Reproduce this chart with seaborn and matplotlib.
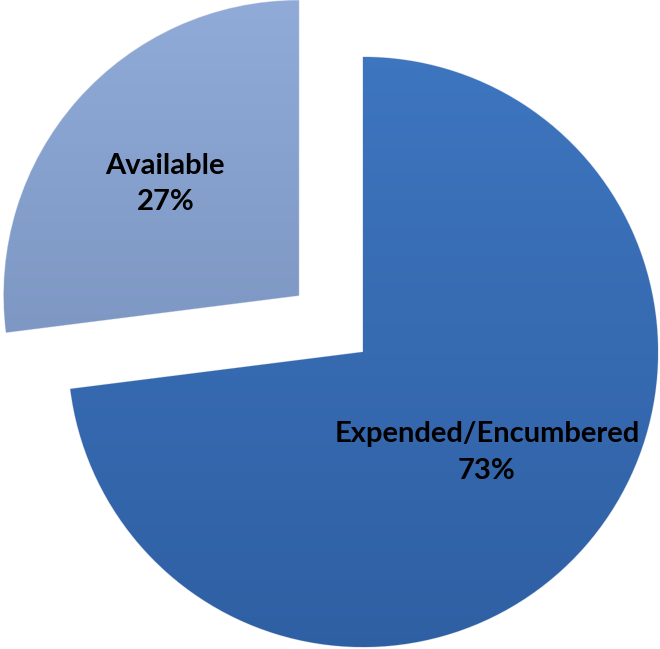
import matplotlib
matplotlib.use("Agg")
import matplotlib.pyplot as plt
import matplotlib.colors as mcolors
import numpy as np
import seaborn as sns

# data
categories = ["Expended/Encumbered", "Available"]
shares = [73, 27]
explode = [0, 0.29]

# top and bottom colours of each slice (glossy look)
top_colors = ["#3f78c2", "#91acd9"]
bottom_colors = ["#2f5fa3", "#6c84b0"]

sns.set_style("white")
plt.rcParams["font.family"] = ["Lato", "DejaVu Sans"]

fig = plt.figure(figsize=(6.6, 6.49), dpi=100)
ax = fig.add_axes([0, 0, 1, 1])

wedges, _ = ax.pie(shares, explode=explode, startangle=90, counterclock=False,
                   colors=top_colors, radius=1.0,
                   wedgeprops=dict(linewidth=0.8, edgecolor="#d0d8e6"))

# vertical gradient clipped to each slice
for w, c1, c2 in zip(wedges, top_colors, bottom_colors):
    cmap = mcolors.LinearSegmentedColormap.from_list("g", [c2, c1])
    grad = np.linspace(0, 1, 256).reshape(-1, 1)
    im = ax.imshow(grad, cmap=cmap, origin="lower", aspect="auto",
                   extent=[-1.6, 1.2, -1.05, 1.25], zorder=2)
    im.set_clip_path(w)

ax.set_xlim(-363 / 295, 297 / 295)
ax.set_ylim(-297 / 295, 352 / 295)
ax.set_aspect("auto")
ax.axis("off")

# labels placed at slice centres
label_pos = [(0.42, -0.34), (-0.67, 0.57)]
for name, val, (x, y) in zip(categories, shares, label_pos):
    ax.text(x, y, f"{name}\n{val}%", ha="center", va="center",
            fontsize=21, fontweight="bold", color="black",
            linespacing=1.5, zorder=4)

plt.savefig("out.png", dpi=100)
